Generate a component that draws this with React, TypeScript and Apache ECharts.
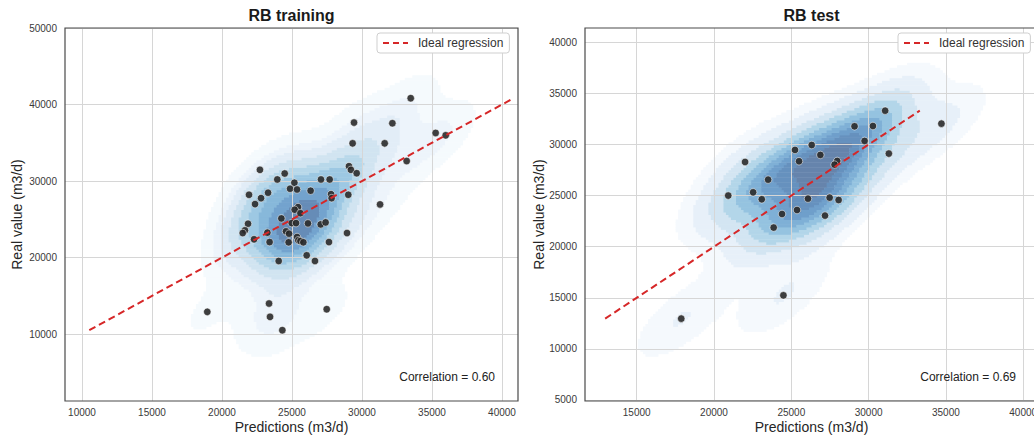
import React, { useEffect, useRef } from 'react';
import * as echarts from 'echarts';

// ---------- data ----------
const trainPred = [33480, 29430, 32170, 35260, 35980, 29330, 31620, 33190, 29070, 29210, 29620, 22710, 24480, 23950, 25170, 24860, 25360, 27070, 27690, 26330, 27790, 27830, 29020, 21930, 23290, 22790, 22360, 31290, 25430, 25190, 25600, 24240, 24980, 25290, 26140, 27050, 27400, 21860, 21640, 21480, 22290, 23240, 23400, 24570, 24790, 24760, 25360, 25450, 25600, 25810, 27640, 28930, 26050, 26640, 24050, 18950, 23360, 23430, 27480, 24310];
const trainReal = [40830, 37640, 37560, 36290, 35980, 34930, 34930, 32620, 31940, 31470, 31030, 31470, 30990, 30210, 29780, 29000, 28900, 30210, 30210, 28740, 28290, 27770, 28210, 28210, 28480, 27770, 26990, 26950, 26600, 26260, 25810, 25120, 24510, 24510, 24470, 24340, 24600, 24430, 23560, 23210, 22390, 23260, 22030, 23430, 23130, 22000, 22690, 22260, 22160, 22000, 22030, 23210, 20300, 19560, 19560, 12910, 14000, 12260, 13260, 10520];

const testPred = [31070, 29090, 30280, 34710, 29740, 31310, 26320, 25240, 26880, 25500, 22010, 27970, 27800, 23500, 20920, 22530, 23090, 26080, 27480, 28060, 25370, 24400, 27180, 23860, 24490, 17880];
const testReal = [33310, 31780, 31810, 32040, 30350, 29110, 29950, 29470, 28980, 28360, 28290, 28390, 28030, 26560, 25000, 25320, 24640, 24700, 24800, 24570, 23590, 23200, 23040, 21870, 15240, 12960];

const titles = ['RB training', 'RB test'];
const correlationLabels = ['Correlation = 0.60', 'Correlation = 0.69'];

const trainXTicks = [10000, 15000, 20000, 25000, 30000, 35000, 40000];
const trainYTicks = [10000, 20000, 30000, 40000, 50000];
const testXTicks = [15000, 20000, 25000, 30000, 35000, 40000];
const testYTicks = [5000, 10000, 15000, 20000, 25000, 30000, 35000, 40000];

const trainXRange = [8786, 41143];
const trainYRange = [1265, 50000];
const testXRange = [11656, 40957];
const testYRange = [4900, 41400];

// ---------- styling ----------
const FONT = 'Liberation Sans, Arial, Helvetica, sans-serif';
const KDE_ALPHA = 0.62;
const BLUES = ['#f7fbff', '#deebf7', '#c6dbef', '#9ecae1', '#6baed6', '#4292c6', '#2171b5', '#08519c', '#08306b'];

function hexToRgb(h: string) {
  return [parseInt(h.slice(1, 3), 16), parseInt(h.slice(3, 5), 16), parseInt(h.slice(5, 7), 16)];
}
function blues(t: number) {
  const v = Math.max(0, Math.min(1, t)) * (BLUES.length - 1);
  const i = Math.min(BLUES.length - 2, Math.floor(v));
  const f = v - i;
  const a = hexToRgb(BLUES[i]);
  const b = hexToRgb(BLUES[i + 1]);
  return a.map((c, k) => c + (b[k] - c) * f);
}
function blendColor(rgb: number[], alpha: number) {
  const c = rgb.map((v) => Math.round(255 + (v - 255) * alpha));
  return `rgb(${c[0]},${c[1]},${c[2]})`;
}

// Gaussian KDE (Scott bandwidth) with iso-proportion levels, rendered as run-length cells
function buildKde(px: number[], py: number[], xr: number[], yr: number[], nx: number, ny: number) {
  const n = px.length;
  const mx = px.reduce((s, v) => s + v, 0) / n;
  const my = py.reduce((s, v) => s + v, 0) / n;
  let sxx = 0, syy = 0, sxy = 0;
  for (let k = 0; k < n; k++) {
    const u = px[k] - mx, v = py[k] - my;
    sxx += u * u; syy += v * v; sxy += u * v;
  }
  sxx /= n - 1; syy /= n - 1; sxy /= n - 1;
  const f2 = Math.pow(n, -1 / 3);
  const a = sxx * f2, b = sxy * f2, d = syy * f2;
  const det = a * d - b * b;
  const ia = d / det, ib = -b / det, id = a / det;
  const dx = (xr[1] - xr[0]) / nx, dy = (yr[1] - yr[0]) / ny;
  const dens = new Float64Array(nx * ny);
  for (let j = 0; j < ny; j++) {
    const y = yr[0] + (j + 0.5) * dy;
    for (let i = 0; i < nx; i++) {
      const x = xr[0] + (i + 0.5) * dx;
      let s = 0;
      for (let k = 0; k < n; k++) {
        const u = x - px[k], v = y - py[k];
        s += Math.exp(-0.5 * (ia * u * u + 2 * ib * u * v + id * v * v));
      }
      dens[j * nx + i] = s;
    }
  }
  const sorted = Array.from(dens).sort((p, q) => q - p);
  const total = sorted.reduce((s, v) => s + v, 0);
  const cum: number[] = [];
  let acc = 0;
  for (const v of sorted) { acc += v; cum.push(acc / total); }
  const nLev = 10;
  const levels: number[] = [];
  for (let l = 0; l < nLev; l++) {
    const q = 0.05 + (0.95 * l) / (nLev - 1);
    const target = 1 - q;
    let idx = cum.findIndex((c) => c >= target);
    if (idx < 0) idx = sorted.length - 1;
    levels.push(sorted[idx]);
  }
  const colors: string[] = [];
  for (let l = 0; l < nLev - 1; l++) {
    const mid = (levels[l] + levels[l + 1]) / 2;
    const t = (mid - levels[0]) / (levels[nLev - 1] - levels[0]);
    colors.push(blendColor(blues(t), KDE_ALPHA));
  }
  const bandOf = (v: number) => {
    if (v < levels[0]) return -1;
    let bnd = 0;
    for (let l = 1; l < nLev - 1; l++) if (v >= levels[l]) bnd = l;
    return bnd;
  };
  const runs: number[][] = [];
  for (let j = 0; j < ny; j++) {
    let start = 0;
    let cur = bandOf(dens[j * nx]);
    for (let i = 1; i <= nx; i++) {
      const bnd = i < nx ? bandOf(dens[j * nx + i]) : -2;
      if (bnd !== cur) {
        if (cur >= 0) {
          runs.push([xr[0] + start * dx, xr[0] + i * dx, yr[0] + j * dy, yr[0] + (j + 1) * dy, cur]);
        }
        start = i;
        cur = bnd;
      }
    }
  }
  return { runs, colors };
}

const plain = (v: number) => String(Math.round(v));

function makeAxes(xr: number[], yr: number[], xt: number[], yt: number[], gridIndex: number, yNameGap: number) {
  const splitLine = { show: true, lineStyle: { color: '#d6d6d6', width: 1 } };
  const x = {
    type: 'value', gridIndex, min: xr[0], max: xr[1],
    name: 'Predictions (m3/d)', nameLocation: 'middle', nameGap: 19, nameMoveOverlap: false,
    nameTextStyle: { fontSize: 14, color: '#262626', fontFamily: FONT },
    axisLabel: { customValues: xt, formatter: plain, fontSize: 10, color: '#3a3a3a', margin: 6, fontFamily: FONT },
    axisLine: { show: false },
    axisTick: { show: false, customValues: xt },
    splitLine,
  };
  const y = {
    type: 'value', gridIndex, min: yr[0], max: yr[1],
    name: 'Real value (m3/d)', nameLocation: 'middle', nameGap: yNameGap, nameMoveOverlap: false,
    nameTextStyle: { fontSize: 14, color: '#262626', fontFamily: FONT },
    axisLabel: { customValues: yt, formatter: plain, fontSize: 10, color: '#3a3a3a', margin: 8, fontFamily: FONT },
    axisLine: { show: false },
    axisTick: { show: false, customValues: yt },
    splitLine,
  };
  return { x, y };
}

export default function App() {
  const ref = useRef<HTMLDivElement>(null);
  useEffect(() => {
    if (!ref.current) return;
    const chart = echarts.init(ref.current, undefined, { renderer: 'svg' });

    const kTrain = buildKde(trainPred, trainReal, trainXRange, trainYRange, 180, 150);
    const kTest = buildKde(testPred, testReal, testXRange, testYRange, 180, 150);

    const a0 = makeAxes(trainXRange, trainYRange, trainXTicks, trainYTicks, 0, 41);
    const a1 = makeAxes(testXRange, testYRange, testXTicks, testYTicks, 1, 39);

    const lineRange = (arr: number[]) => {
      const lo = Math.min(...arr), hi = Math.max(...arr);
      return [[lo, lo], [hi, hi]];
    };

    const kdeSeries = (k: { runs: number[][]; colors: string[] }, idx: number) => ({
      type: 'custom', xAxisIndex: idx, yAxisIndex: idx, z: -1, silent: true, clip: true,
      encode: { x: [0, 1], y: [2, 3] },
      data: k.runs,
      renderItem: (_p: any, api: any) => {
        const p0 = api.coord([api.value(0), api.value(3)]);
        const p1 = api.coord([api.value(1), api.value(2)]);
        return {
          type: 'rect',
          shape: { x: p0[0], y: p0[1], width: p1[0] - p0[0] + 0.5, height: p1[1] - p0[1] + 0.5 },
          style: { fill: k.colors[api.value(4)] },
        };
      },
    });

    const scatter = (px: number[], py: number[], idx: number) => ({
      type: 'scatter', xAxisIndex: idx, yAxisIndex: idx, z: 3,
      symbolSize: 7.5,
      itemStyle: { color: '#2a2a2a', opacity: 0.9, borderColor: '#ffffff', borderWidth: 0.6 },
      data: px.map((p, i) => [p, py[i]]),
    });

    const line = (py: number[], idx: number) => ({
      type: 'line', name: 'Ideal regression', xAxisIndex: idx, yAxisIndex: idx, z: 4,
      symbol: 'none', showSymbol: false, color: '#d62728',
      lineStyle: { color: '#d62728', width: 2, type: [7, 4] },
      data: lineRange(py),
    });

    const legendCommon = {
      data: ['Ideal regression'], top: 33, padding: [4, 6, 4, 5], itemWidth: 25, itemHeight: 12,
      borderColor: '#cfcfcf', borderWidth: 1, borderRadius: 3, backgroundColor: '#ffffff',
      itemStyle: { opacity: 0 },
      lineStyle: { type: [6, 4], width: 2, color: '#d62728' },
      textStyle: { fontSize: 12, color: '#333', fontFamily: FONT, padding: [0, 0, 0, 5] },
    };

    const option: any = {
      animation: false,
      backgroundColor: '#ffffff',
      grid: [
        { left: 65, top: 28, width: 453, height: 373, show: true, borderColor: '#4a4a4a', borderWidth: 1.2, backgroundColor: 'transparent', z: 5 },
        { left: 585, top: 28, width: 453, height: 373, show: true, borderColor: '#4a4a4a', borderWidth: 1.2, backgroundColor: 'transparent', z: 5 },
      ],
      xAxis: [a0.x, a1.x],
      yAxis: [a0.y, a1.y],
      legend: [
        { ...legendCommon, left: 377 },
        { ...legendCommon, left: 898 },
      ],
      graphic: [
        { type: 'text', x: 291.5, y: 15, style: { text: titles[0], fill: '#1a1a1a', font: `bold 16px ${FONT}`, align: 'center', verticalAlign: 'middle' } },
        { type: 'text', x: 811.5, y: 15, style: { text: titles[1], fill: '#1a1a1a', font: `bold 16px ${FONT}`, align: 'center', verticalAlign: 'middle' } },
        { type: 'text', x: 495, y: 377, z: 10, style: { text: correlationLabels[0], fill: '#222', font: `12px ${FONT}`, align: 'right', verticalAlign: 'middle' } },
        { type: 'text', x: 1016, y: 377, z: 10, style: { text: correlationLabels[1], fill: '#222', font: `12px ${FONT}`, align: 'right', verticalAlign: 'middle' } },
      ],
      series: [
        kdeSeries(kTrain, 0),
        kdeSeries(kTest, 1),
        scatter(trainPred, trainReal, 0),
        scatter(testPred, testReal, 1),
        line(trainReal, 0),
        line(testReal, 1),
      ],
    };
    chart.setOption(option);
    return () => chart.dispose();
  }, []);

  return (
    <div style={{ position: 'fixed', left: 0, top: 0, width: 1034, height: 439, overflow: 'hidden', background: '#fff' }}>
      <div ref={ref} style={{ width: 1050, height: 439 }} />
    </div>
  );
}
